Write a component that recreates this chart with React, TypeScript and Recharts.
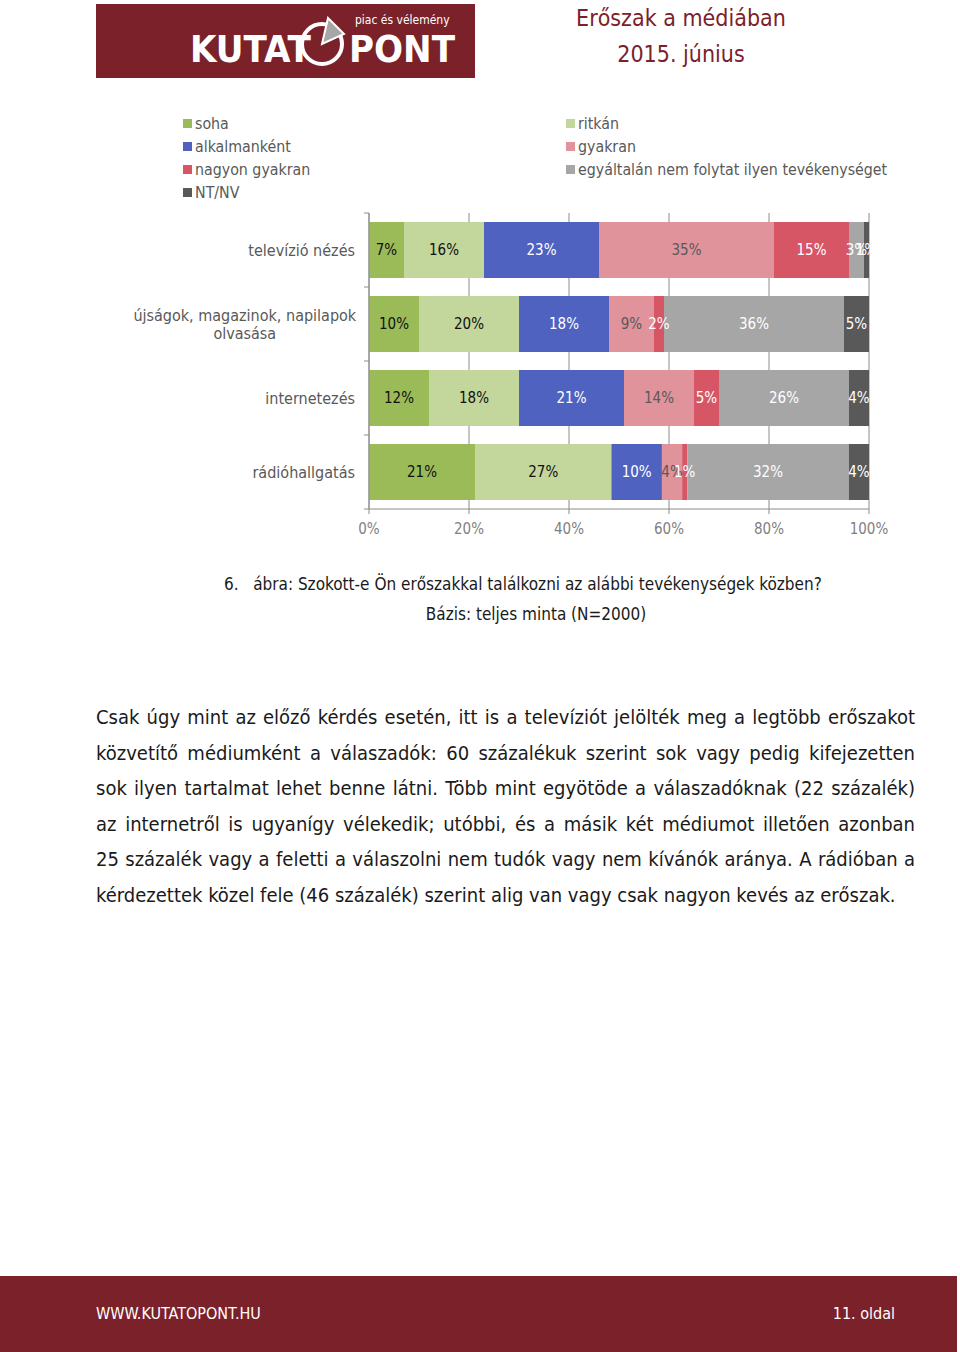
import React from 'react';
import { BarChart, Bar, XAxis, YAxis, CartesianGrid, Legend, LabelList } from 'recharts';

const categories = ['televízió nézés', 'újságok, magazinok, napilapok olvasása', 'internetezés', 'rádióhallgatás'];
const soha = [7, 10, 12, 21];
const ritkan = [16, 20, 18, 27];
const alkalmankent = [23, 18, 21, 10];
const gyakran = [35, 9, 14, 4];
const nagyonGyakran = [15, 2, 5, 1];
const egyaltalanNem = [3, 36, 26, 32];
const ntnv = [1, 5, 4, 4];
const xTicks = [0, 0.2, 0.4, 0.6, 0.8, 1];

const MAROON = '#7B2129';
const FONT = '"DejaVu Sans Condensed", "Liberation Sans Narrow", "DejaVu Sans", sans-serif';
const AXIS = '#8c8c8c';
const Y_TICK_MARGIN = 14;

const series = [
  { key: 'soha', name: 'soha', values: soha, color: '#9BBB59', text: '#111' },
  { key: 'ritkan', name: 'ritkán', values: ritkan, color: '#C3D69B', text: '#111' },
  { key: 'alkalmankent', name: 'alkalmanként', values: alkalmankent, color: '#4F62C0', text: '#fff' },
  { key: 'gyakran', name: 'gyakran', values: gyakran, color: '#E0939A', text: '#595959' },
  { key: 'nagyonGyakran', name: 'nagyon gyakran', values: nagyonGyakran, color: '#D65666', text: '#fff' },
  { key: 'egyaltalanNem', name: 'egyáltalán nem folytat ilyen tevékenységet', values: egyaltalanNem, color: '#A6A6A6', text: '#fff' },
  { key: 'ntnv', name: 'NT/NV', values: ntnv, color: '#595959', text: '#fff' },
];

const data = categories.map((name, i) => {
  const row: Record<string, any> = { name };
  series.forEach((s) => (row[s.key] = s.values[i]));
  return row;
});

const wrapLabel = (label: string, max = 30) => {
  const words = label.split(' ');
  const lines: string[] = [];
  let cur = '';
  words.forEach((w) => {
    if (cur && (cur + ' ' + w).length > max) {
      lines.push(cur);
      cur = w;
    } else {
      cur = cur ? cur + ' ' + w : w;
    }
  });
  if (cur) lines.push(cur);
  return lines;
};

// category label + Excel-style tick marks on the band boundaries
const CategoryTick = (props: any) => {
  const { x, y, payload, index, visibleTicksCount } = props;
  const lines = wrapLabel(String(payload.value));
  const style = { fontFamily: FONT, fontSize: 16, fill: '#595959' };
  const axisX = x + Y_TICK_MARGIN;
  const half = payload.offset || 0;
  const marks = (
    <g stroke={AXIS}>
      <line x1={axisX - 5} x2={axisX} y1={y - half} y2={y - half} />
      {index === visibleTicksCount - 1 && <line x1={axisX - 5} x2={axisX} y1={y + half} y2={y + half} />}
    </g>
  );
  if (lines.length === 1) {
    return (
      <g>
        {marks}
        <text x={x} y={y} dy="0.35em" textAnchor="end" style={style}>
          {lines[0]}
        </text>
      </g>
    );
  }
  const lineH = 18;
  const maxLen = Math.max(...lines.map((l) => l.length));
  const cx = x - (maxLen * 7.6) / 2;
  const startY = y - ((lines.length - 1) * lineH) / 2;
  return (
    <g>
      {marks}
      <text textAnchor="middle" style={style}>
        {lines.map((l, i) => (
          <tspan key={i} x={cx} y={startY + i * lineH} dy="0.35em">
            {l}
          </tspan>
        ))}
      </text>
    </g>
  );
};

const renderLegend = (props: any) => {
  const payload = [...(props.payload || [])].sort(
    (a: any, b: any) =>
      series.findIndex((s) => s.name === a.value) - series.findIndex((s) => s.name === b.value)
  );
  return (
    <div
      style={{
        display: 'grid',
        gridTemplateColumns: '383px 360px',
        marginLeft: 183,
        fontFamily: FONT,
        fontSize: 15.8,
        color: '#595959',
        lineHeight: '23px',
      }}
    >
      {payload.map((p: any) => (
        <div key={p.value} style={{ display: 'flex', alignItems: 'center', whiteSpace: 'nowrap' }}>
          <span style={{ display: 'inline-block', width: 9, height: 9, background: p.color, marginRight: 3 }} />
          <span>{p.value}</span>
        </div>
      ))}
    </div>
  );
};

const logoText = {
  position: 'absolute' as const,
  top: 22,
  fontFamily: FONT,
  fontWeight: 'bold' as const,
  fontSize: 38,
  color: '#fff',
  lineHeight: '46px',
};

const Logo = () => (
  <div style={{ position: 'absolute', left: 96, top: 4, width: 379, height: 74, background: MAROON }}>
    <div style={{ ...logoText, left: 94 }}>KUTAT</div>
    <svg style={{ position: 'absolute', left: 202, top: 10 }} width={52} height={56}>
      <circle cx={24} cy={30} r={20} fill="none" stroke="#fff" strokeWidth={4} />
      <path d="M24 30 L30 4 L46 20 Z" fill="#A6A6A6" stroke="#fff" strokeWidth={2} />
    </svg>
    <div style={{ ...logoText, left: 253 }}>PONT</div>
    <div style={{ position: 'absolute', left: 259, top: 9, fontFamily: FONT, fontSize: 12, color: '#fff' }}>
      piac és vélemény
    </div>
  </div>
);

const paragraphLines = [
  'Csak úgy mint az előző kérdés esetén, itt is a televíziót jelölték meg a legtöbb erőszakot',
  'közvetítő médiumként a válaszadók: 60 százalékuk szerint sok vagy pedig kifejezetten',
  'sok ilyen tartalmat lehet benne látni. Több mint egyötöde a válaszadóknak (22 százalék)',
  'az internetről is ugyanígy vélekedik; utóbbi, és a másik két médiumot illetően azonban',
  '25 százalék vagy a feletti a válaszolni nem tudók vagy nem kívánók aránya. A rádióban a',
  'kérdezettek közel fele (46 százalék) szerint alig van vagy csak nagyon kevés az erőszak.',
];

export default function App() {
  return (
    <div style={{ position: 'absolute', left: 0, top: 0, width: 960, height: 1352, background: '#fff', overflow: 'hidden' }}>
      <Logo />
      <div
        style={{
          position: 'absolute',
          left: 540,
          width: 282,
          top: 0,
          textAlign: 'center',
          fontFamily: FONT,
          fontSize: 23,
          color: MAROON,
          lineHeight: '36px',
        }}
      >
        <div>Erőszak a médiában</div>
        <div>2015. június</div>
      </div>

      <div style={{ position: 'absolute', left: 0, top: 100 }}>
        <BarChart
          width={960}
          height={450}
          data={data}
          layout="vertical"
          stackOffset="expand"
          barSize={56}
          margin={{ top: 113, right: 91, bottom: 11, left: 0 }}
        >
          <CartesianGrid horizontal={false} stroke={AXIS} />
          <XAxis
            type="number"
            domain={[0, 1]}
            ticks={xTicks}
            tickFormatter={(v: number) => `${Math.round(v * 100)}%`}
            stroke={AXIS}
            tickSize={5}
            tickMargin={9}
            height={30}
            tick={{ fontFamily: FONT, fontSize: 15, fill: '#7f7f7f' }}
          />
          <YAxis
            type="category"
            dataKey="name"
            width={369}
            stroke={AXIS}
            tickLine={false}
            tickSize={0}
            tickMargin={Y_TICK_MARGIN}
            tick={<CategoryTick />}
          />
          <Legend
            verticalAlign="middle"
            align="center"
            layout="horizontal"
            content={renderLegend}
            wrapperStyle={{ top: 12, left: 0, width: 960 }}
          />
          {series.map((s) => (
            <Bar key={s.key} dataKey={s.key} name={s.name} stackId="a" fill={s.color} isAnimationActive={false}>
              <LabelList
                dataKey={s.key}
                position="center"
                formatter={(v: any) => `${v}%`}
                style={{ fontFamily: FONT, fontSize: 15, fill: s.text }}
              />
            </Bar>
          ))}
        </BarChart>
      </div>

      <div style={{ position: 'absolute', left: 224, top: 574, fontFamily: FONT, fontSize: 17, color: '#1a1a1a', whiteSpace: 'nowrap' }}>
        6.&nbsp;&nbsp;&nbsp;ábra: Szokott-e Ön erőszakkal találkozni az alábbi tevékenységek közben?
      </div>
      <div
        style={{
          position: 'absolute',
          left: 336,
          width: 400,
          top: 604,
          textAlign: 'center',
          fontFamily: FONT,
          fontSize: 17,
          color: '#1a1a1a',
        }}
      >
        Bázis: teljes minta (N=2000)
      </div>

      <div
        style={{
          position: 'absolute',
          left: 96,
          top: 700,
          width: 819,
          fontFamily: FONT,
          fontSize: 20,
          lineHeight: '35.5px',
          color: '#1a1a1a',
        }}
      >
        {paragraphLines.map((line, i) => (
          <div
            key={i}
            style={{
              textAlign: 'justify',
              textAlignLast: i < paragraphLines.length - 1 ? 'justify' : 'left',
              whiteSpace: 'nowrap',
            }}
          >
            {line}
          </div>
        ))}
      </div>

      <div style={{ position: 'absolute', left: 0, top: 1276, width: 957, height: 76, background: MAROON }}>
        <div style={{ position: 'absolute', left: 96, top: 28, fontFamily: FONT, fontSize: 16, color: '#fff' }}>
          WWW.KUTATOPONT.HU
        </div>
        <div style={{ position: 'absolute', right: 62, top: 28, fontFamily: FONT, fontSize: 16, color: '#fff' }}>
          11. oldal
        </div>
      </div>
    </div>
  );
}
